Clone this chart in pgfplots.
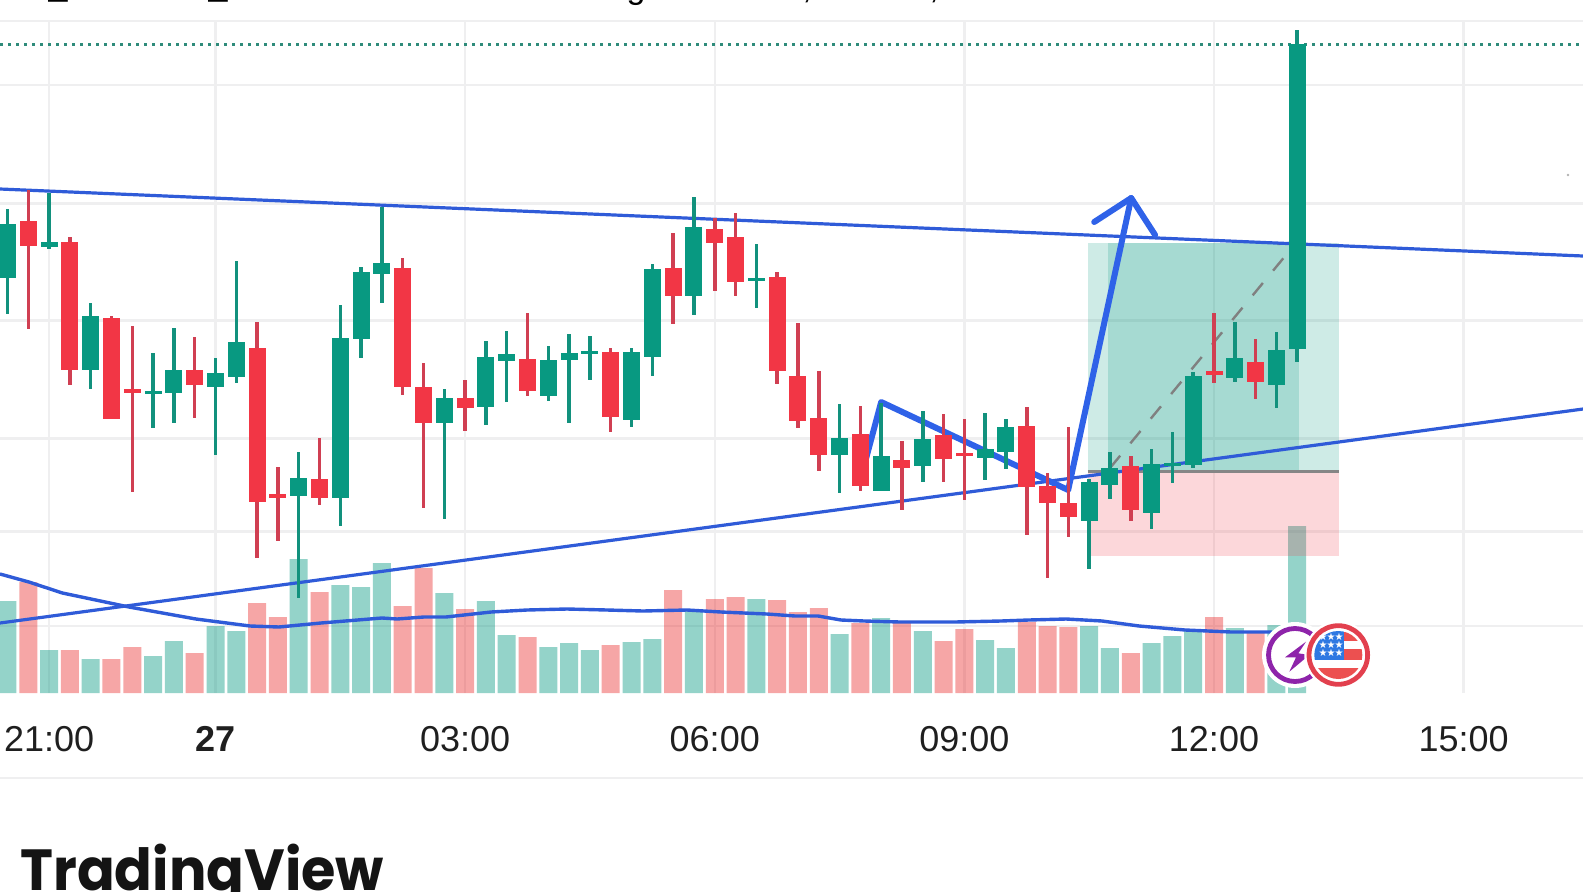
\documentclass[border=0pt]{standalone}
\usepackage{pgfplots}
\usepackage{pgfplotstable}
\usepackage{fontspec}
\pgfplotsset{compat=1.18}
\setmainfont{Liberation Sans}
\newfontfamily\pop{Poppins}
\newfontfamily\djv{DejaVu Sans}
\definecolor{cG}{HTML}{089981}
\definecolor{cR}{HTML}{F23645}
\definecolor{vR}{HTML}{EA3030}
\definecolor{wG}{HTML}{12917D}
\definecolor{wR}{HTML}{D03F52}
\definecolor{trend}{HTML}{2F5BD8}
\definecolor{arrowb}{HTML}{2F62E8}
\definecolor{gridc}{HTML}{EFEFF0}
\definecolor{dotc}{HTML}{2E8B7A}
\definecolor{purp}{HTML}{8E24AA}
\definecolor{ringr}{HTML}{E2404E}
\definecolor{flagr}{HTML}{EC5050}
\definecolor{flagb}{HTML}{2E78E2}
\pgfplotstableread{
i h t b l
0 209.3 224 277.7 314.3
2 192.7 242 247 248.7
4 303.3 316 370 388.7
7 353 390.7 394 427.7
8 328.3 370 393 422.7
10 358.3 373 387 454.7
11 261 342 377 382.7
14 452.3 478 496 597.7
16 305.3 338 498 525.7
17 267.3 272 339 357.7
18 207.3 263 274 302.7
21 389 398 422.7 518.7
23 341 357 407 424.7
24 331 354 361 401.7
26 346 360 396 400.7
27 334 353 360 422.7
28 336 351 354 380
30 348 352 420 426.7
31 264 269 357 375.7
33 197.3 227 296 315
36 244 277.7 281 308
40 404 438 455 493
42 403 456 491 491
44 411 439 466 482
47 413 449 458 480
48 419 427 452 469
52 479 482 521 569
53 452 468 485 499
55 449 464 513 529
56 432 463 466 483
57 372 376 465 468
59 322 358 378 382
61 332 350 385 408
62 30 44.4 349 362
}\greenT
\pgfplotstableread{
i h t b l
1 190 221 245.7 329.3
3 237 242 370 384.7
5 316 318 418.7 418.7
6 326 389 393 491.7
9 337.3 370 385 417.7
12 322.3 348 502 557.7
13 467.3 494.3 498.3 540.7
15 438 479 498 504.7
19 258.3 268 387 394.7
20 363 387 422.7 507.7
22 380 398 408 430.7
25 313 359 391 395.7
29 348 352 417 431.7
32 233 268 296 324
34 218 229 243 291
35 213 237 282 296
37 272.3 277 371 384
38 323 376 421 428
39 371 418 455 471
41 406 434 486 491
43 441 460 468 510
45 414 435 459 482
46 419 453 456 500
49 407 426 487 535
50 473 486 503 578
51 427 503 517 537
54 456 466 510 521
58 313 371 375 383
60 339 362 382 399
}\redT
\pgfplotstableread{
i v
0 92
2 43
4 34
7 37
8 52
10 67
11 62
14 134
16 108
17 106
18 130
21 100
23 92
24 58
26 46
27 50
28 43
30 51
31 54
33 82
36 94
40 59
42 75
44 62
47 53
48 45
52 67
53 45
55 50
56 57
57 63
59 65
61 68
62 167
}\volG
\pgfplotstableread{
i v
1 111
3 43
5 34
6 46
9 40
12 90
13 76
15 101
19 87
20 125
22 84
25 56
29 48
32 103
34 94
35 96
37 93
38 81
39 85
41 70
43 70
45 52
46 64
49 71
50 67
51 66
54 40
58 76
60 60
}\volR
\pgfplotsset{
  base/.style={
    at={(0pt,99pt)}, anchor=south west, scale only axis,
    width=791.5pt, height=336pt,
    xmin=-0.36, xmax=75.74,
    axis line style={draw=none},
    tick style={draw=none},
    yticklabels={},
  },
  wick/.style={draw=none, mark=none, forget plot,
    error bars/.cd, y dir=both, y explicit, error mark=none,
    error bar style={line width=1.75pt, draw=#1}},
  body/.style={draw=none, mark=none, forget plot,
    error bars/.cd, y dir=both, y explicit, error mark=none,
    error bar style={line width=8.5pt, draw=#1}},
}
\begin{document}
\begin{tikzpicture}
\useasboundingbox (0,0) rectangle (791.5pt,445.5pt);
% volume pane with the grid and the time axis
\begin{axis}[base,
    ymin=0, ymax=672,
    xtick={2,10,22,34,46,58,70},
    xticklabels={21:00,\textbf{27},03:00,06:00,09:00,12:00,15:00},
    x tick label style={anchor=base, yshift=-24.8pt, font=\fontsize{18}{21}\selectfont, text=black!88},
    ytick={67,161.7,254.7,372.7,489.7,608,672},
    grid=major, major grid style={draw=gridc, line width=1.2pt},
    ybar, bar width=9pt, bar shift=0pt,
]
\addplot[fill=cG, fill opacity=0.43, draw=none] table[x=i,y=v] {\volG};
\addplot[fill=vR, fill opacity=0.43, draw=none] table[x=i,y=v] {\volR};
\addplot[sharp plot, no marks, draw=trend, line width=1.7pt] coordinates {
(-0.36,119)(1.03,111)(2.64,100)(5.84,86)(9.06,74)(11.66,67)(13.05,66)(15.07,70)
(18.0,75)(18.73,74)(20.02,76)(21.08,76)(23.25,81)(24.98,83)(26.9,84)(28.82,83)
(30.55,82)(32.67,83)(34.3,81)(36.5,79)(37.86,77)(38.97,77)(40.07,73)(41.18,72)
(42.9,71)(45.55,71)(47.76,72)(49.1,73)(50.89,74)(52.62,72)(54.4,67)(56.61,63)
(58.82,61)(60.8,61)};
\end{axis}
% price pane, y in image rows
\begin{axis}[base,
    y dir=reverse, ymin=21, ymax=693,
    xtick=\empty, ytick=\empty,
]
% position tool
\addplot[fill=cG, fill opacity=0.2, draw=none, forget plot] coordinates {(51.93,242.7)(64.03,242.7)(64.03,471.5)(51.93,471.5)} --cycle;
\addplot[fill=cG, fill opacity=0.2, draw=none, forget plot] coordinates {(52.91,242.7)(62.09,242.7)(62.09,471.5)(52.91,471.5)} --cycle;
\addplot[fill=cR, fill opacity=0.2, draw=none, forget plot] coordinates {(51.93,471.5)(64.03,471.5)(64.03,555.7)(51.93,555.7)} --cycle;
\addplot[draw=gray!95, line width=1.3pt, forget plot] coordinates {(51.93,471.5)(64.03,471.5)};
\addplot[draw=gray, line width=1.2pt, dash pattern=on 8pt off 8pt, forget plot] coordinates {(53.0,468)(61.66,250)};
\addplot[draw=gray, line width=1.2pt, forget plot] coordinates {(61.04,244)(61.66,243)};
% current price
\addplot[draw=dotc, line width=1.5pt, dash pattern=on 1.4pt off 2.6pt, forget plot] coordinates {(-0.36,44.3)(75.74,44.3)};
% trend lines
\addplot[draw=trend, line width=1.6pt, forget plot] coordinates {(-0.36,189)(75.74,256)};
\addplot[draw=trend, line width=1.6pt, forget plot] coordinates {(-0.36,623)(75.74,409)};
% drawn arrow
\addplot[draw=arrowb, line width=3pt, line cap=round, line join=round, forget plot] coordinates {(41.28,458)(42.0,402)(50.99,490)(54.02,198)};
\addplot[draw=arrowb, line width=3pt, line cap=round, line join=round, forget plot] coordinates {(52.24,222)(54.02,198)(55.17,235)};
% candles
\addplot[wick=wG] table[x=i, y expr={(\thisrow{h}+\thisrow{l})/2}, y error expr={(\thisrow{l}-\thisrow{h})/2}] {\greenT};
\addplot[wick=wR] table[x=i, y expr={(\thisrow{h}+\thisrow{l})/2}, y error expr={(\thisrow{l}-\thisrow{h})/2}] {\redT};
\addplot[body=cG] table[x=i, y expr={(\thisrow{t}+\thisrow{b})/2}, y error expr={(\thisrow{b}-\thisrow{t})/2}] {\greenT};
\addplot[body=cR] table[x=i, y expr={(\thisrow{t}+\thisrow{b})/2}, y error expr={(\thisrow{b}-\thisrow{t})/2}] {\redT};
\end{axis}
% furniture in image pixels
\begin{scope}[x=0.5pt,y=-0.5pt,yshift=445.5pt]
\draw[gridc, line width=1.2pt] (0,778) -- (1583,778);
\fill[gray!60] (1568,175) circle [radius=1.3];
% event icons
\fill[white] (1295,655) circle [radius=33];
\draw[draw=purp, line width=2.4pt] (1295,655) circle [radius=26.5];
\fill[purp] (1306,641.7) -- (1285,657.3) -- (1296,657.3) -- (1289.3,671.7) -- (1309.3,655) -- (1298.3,653.3) -- cycle;
\fill[white] (1338.3,655) circle [radius=34];
\draw[draw=ringr, line width=2.4pt] (1338.3,655) circle [radius=29.3];
\begin{scope}
\clip (1338.3,655) circle [radius=24];
\fill[flagr] (1344,632) rectangle (1364,640.7);
\fill[flagr] (1344,649) rectangle (1364,660);
\fill[flagr] (1310,668) rectangle (1364,680);
\fill[flagb] (1312,630) rectangle (1344,660);
\end{scope}
\foreach \px in {1323,1331,1339}{\foreach \py in {637,645,653}{
  \node[inner sep=0pt, text=white, font=\djv\fontsize{5}{5}\selectfont] at (\px,\py) {★};}}
% title line, cut by the top edge
\foreach \px/\t in {58/\_,218/\_}{\node[anchor=base, inner sep=0pt, font=\fontsize{17}{20}\selectfont] at (\px,-4) {\t};}
\node[anchor=base, inner sep=0pt, font=\fontsize{17}{20}\selectfont] at (636,-1) {g};
\node[anchor=base, inner sep=0pt, font=\fontsize{17}{20}\selectfont] at (807,-1) {,};
\node[anchor=base, inner sep=0pt, font=\fontsize{17}{20}\selectfont] at (934,-1) {,};
% brand
\node[anchor=base west, inner sep=0pt, text=black!92, font=\pop\bfseries\fontsize{29}{34}\selectfont] at (20,890) {\scalebox{0.96}[1]{TradingView}};
\end{scope}
\end{tikzpicture}
\end{document}
